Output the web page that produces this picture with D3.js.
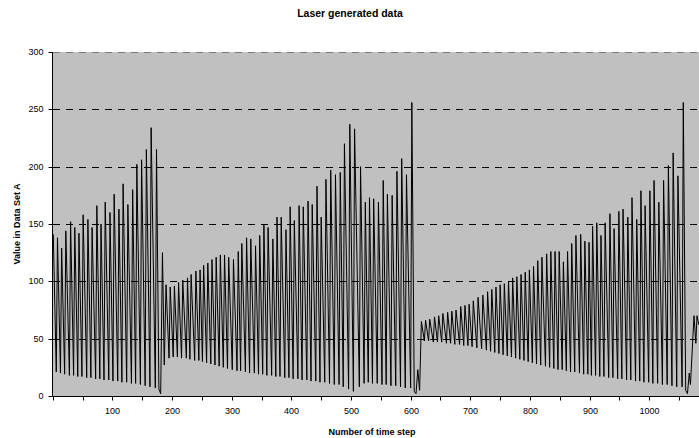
<!DOCTYPE html>
<html>
<head>
<meta charset="utf-8">
<script src="https://cdn.jsdelivr.net/npm/d3@7"></script>
<style>
  html, body { margin: 0; padding: 0; background: #ffffff; }
  svg { display: block; font-family: "Liberation Sans", Arial, sans-serif; }
</style>
</head>
<body>
<svg id="chart" width="699" height="438"></svg>
<script>
// Laser intensity, data set A: pulse maxima (time step, value)
const peakStep = [
  1, 8, 15, 22, 30, 37, 44, 51, 59, 66, 74, 81, 88, 96, 103, 111, 118, 126, 134, 141, 149, 157, 165, 174,
  184, 190, 197, 204, 211, 218, 226, 232, 240, 247, 253, 260, 267, 274, 281, 288, 295, 303, 311, 317,
  325, 332, 340, 347, 354, 361, 369, 376, 383, 391, 398, 405, 413, 420, 428, 435, 443, 450, 458, 466,
  474, 482, 489, 498, 506, 516, 524, 531, 538, 546, 554, 561, 569, 577, 585, 593, 602,
  612, 618, 625, 632, 640, 647, 654, 662, 669, 676, 684, 691, 698, 705, 713, 721, 729, 736, 743, 750,
  757, 764, 771, 778, 785, 792, 799, 806, 813, 820, 828, 835, 842, 849, 856, 863, 870, 877, 885, 892,
  899, 905, 912, 919, 926, 934, 941, 949, 956, 964, 971, 979, 986, 993, 1001, 1008, 1016, 1024, 1032, 1040,
  1048, 1057, 1067, 1075, 1080
];
const peakValue = [
  141, 138, 129, 144, 152, 147, 142, 158, 154, 147, 166, 150, 169, 160, 176, 163, 185, 167, 180, 202, 206, 215, 234, 215,
  125, 97, 95, 96, 99, 101, 103, 106, 109, 110, 114, 116, 119, 121, 123, 123, 121, 119, 126, 133,
  138, 137, 131, 140, 149, 147, 137, 156, 156, 145, 165, 153, 166, 165, 170, 167, 183, 156, 189, 197,
  193, 195, 220, 237, 233, 200, 169, 173, 172, 169, 188, 176, 175, 196, 207, 193, 256,
  23, 65, 66, 67, 69, 70, 72, 73, 74, 75, 78, 79, 80, 83, 86, 88, 91, 93, 95, 97,
  98, 100, 103, 104, 106, 108, 110, 113, 118, 121, 124, 126, 126, 126, 117, 126, 133, 140, 141, 135,
  134, 148, 151, 140, 151, 159, 146, 161, 163, 156, 173, 154, 179, 166, 179, 188, 169, 188, 201, 212,
  192, 256, 20, 70, 70
];

// Laser intensity, data set A: minima between pulses (time step, value)
const troughStep = [
  6, 13, 20, 28, 35, 42, 49, 57, 64, 72, 79, 86, 94, 101, 109, 116, 124, 132, 139, 147, 155, 163, 172, 178, 181,
  187, 195, 202, 209, 216, 224, 230, 238, 245, 251, 258, 265, 272, 279, 286, 293, 301, 309, 315, 323,
  330, 338, 345, 352, 359, 367, 374, 381, 389, 396, 403, 411, 418, 426, 433, 441, 448, 456, 464, 472,
  480, 487, 496, 504, 514, 522, 529, 536, 544, 552, 559, 567, 575, 583, 591, 600, 606, 609,
  615, 623, 630, 638, 645, 652, 660, 667, 674, 682, 689, 696, 703, 711, 719, 727, 734, 741, 748, 755,
  762, 769, 776, 783, 790, 797, 804, 811, 818, 826, 833, 840, 847, 854, 861, 868, 875, 883, 890, 897,
  903, 910, 917, 924, 932, 939, 947, 954, 962, 969, 977, 984, 991, 999, 1006, 1014, 1022, 1030, 1038, 1046,
  1055, 1061, 1064, 1069, 1078, 1083
];
const troughValue = [
  21, 20, 19, 18, 18, 17, 17, 16, 16, 15, 15, 14, 14, 13, 13, 12, 12, 11, 11, 10, 9, 8, 7, 6, 2,
  27, 33, 34, 34, 33, 33, 32, 31, 31, 30, 29, 28, 27, 26, 25, 24, 23, 22, 22, 21,
  20, 20, 19, 19, 18, 18, 17, 17, 16, 16, 15, 15, 14, 14, 13, 13, 12, 12, 11, 10,
  10, 8, 6, 4, 8, 11, 12, 11, 11, 10, 10, 9, 9, 8, 7, 7, 4, 2,
  5, 48, 48, 47, 47, 47, 46, 46, 45, 45, 44, 44, 43, 42, 41, 40, 39, 38, 37, 36,
  35, 34, 33, 32, 31, 30, 29, 28, 27, 26, 25, 24, 23, 23, 22, 21, 21, 20, 19, 19,
  18, 18, 17, 17, 16, 16, 15, 15, 14, 14, 13, 13, 12, 12, 11, 11, 10, 10, 9, 8,
  8, 5, 2, 10, 46, 62
];

const yTicks = [0, 50, 100, 150, 200, 250, 300];
const xMinorTicks = d3.range(0, 1051, 50);
const xLabels = [100, 200, 300, 400, 500, 600, 700, 800, 900, 1000];

const titleText = "Laser generated data";
const xTitle = "Number of time step";
const yTitle = "Value in Data Set A";

// ---- layout ----
const plot = { left: 52.7, right: 699, top: 52, bottom: 396 };

const x = d3.scaleLinear().domain([0, 1083]).range([plot.left, 698.8]);
const y = d3.scaleLinear().domain([0, 300]).range([plot.bottom, plot.top]);

const svg = d3.select("#chart");

// plot background
svg.append("rect")
  .attr("x", 53).attr("y", plot.top)
  .attr("width", plot.right - 53).attr("height", plot.bottom - plot.top)
  .attr("fill", "#c0c0c0");

// dashed horizontal gridlines
svg.append("g")
  .selectAll("line")
  .data(yTicks.filter(v => v > 0))
  .join("line")
  .attr("x1", 53).attr("x2", plot.right)
  .attr("y1", d => Math.round(y(d)) + 0.5)
  .attr("y2", d => Math.round(y(d)) + 0.5)
  .attr("stroke", d => d === 300 ? "#7a7a7a" : "#000")
  .attr("stroke-width", 1)
  .attr("stroke-dasharray", "7,6");

// merged time series of pulse maxima and minima
const series = peakStep.map((s, i) => ({ step: s, value: peakValue[i] }))
  .concat(troughStep.map((s, i) => ({ step: s, value: troughValue[i] })))
  .sort((a, b) => a.step - b.step);

svg.append("clipPath").attr("id", "plotClip")
  .append("rect")
  .attr("x", 53).attr("y", plot.top - 2)
  .attr("width", plot.right - 53).attr("height", plot.bottom - plot.top + 2);

const line = d3.line().x(d => x(d.step)).y(d => y(d.value));

svg.append("path")
  .datum(series)
  .attr("clip-path", "url(#plotClip)")
  .attr("fill", "none")
  .attr("stroke", "#000")
  .attr("stroke-width", 1)
  .attr("stroke-linejoin", "round")
  .attr("d", line);

// y axis
const yAxis = svg.append("g")
  .attr("transform", "translate(52.5,0)")
  .call(d3.axisLeft(y).tickValues(yTicks).tickSize(4).tickSizeOuter(0).tickPadding(5));
yAxis.select(".domain").attr("stroke", "#000").attr("d", `M0,${plot.top}V${plot.bottom}`);
yAxis.selectAll(".tick line").attr("stroke", "#000");
yAxis.selectAll(".tick").attr("transform", d => `translate(0,${Math.round(y(d)) + 0.5})`);
yAxis.selectAll(".tick text")
  .attr("font-size", 9).attr("font-family", "Liberation Sans, Arial, sans-serif").attr("fill", "#000");

// x axis
const xAxis = svg.append("g")
  .attr("transform", "translate(0,396.5)")
  .call(d3.axisBottom(x).tickValues(xMinorTicks).tickSize(4).tickSizeOuter(0)
    .tickFormat(d => xLabels.includes(d) ? d : "").tickPadding(7));
xAxis.select(".domain").attr("stroke", "#000").attr("d", `M52.5,0H${plot.right}`);
xAxis.selectAll(".tick line").attr("stroke", "#000");
xAxis.selectAll(".tick").attr("transform", d => `translate(${Math.round(x(d)) + 0.5},0)`);
xAxis.selectAll(".tick text")
  .attr("font-size", 9).attr("font-family", "Liberation Sans, Arial, sans-serif").attr("fill", "#000");

// titles
svg.append("text")
  .attr("x", 350).attr("y", 17)
  .attr("text-anchor", "middle")
  .attr("font-size", 10.5).attr("font-weight", "bold")
  .text(titleText);

svg.append("text")
  .attr("x", 372).attr("y", 434.5)
  .attr("text-anchor", "middle")
  .attr("font-size", 9).attr("font-weight", "bold")
  .text(xTitle);

svg.append("text")
  .attr("transform", "translate(19.5,224) rotate(-90)")
  .attr("text-anchor", "middle")
  .attr("font-size", 9).attr("font-weight", "bold")
  .text(yTitle);
</script>
</body>
</html>
